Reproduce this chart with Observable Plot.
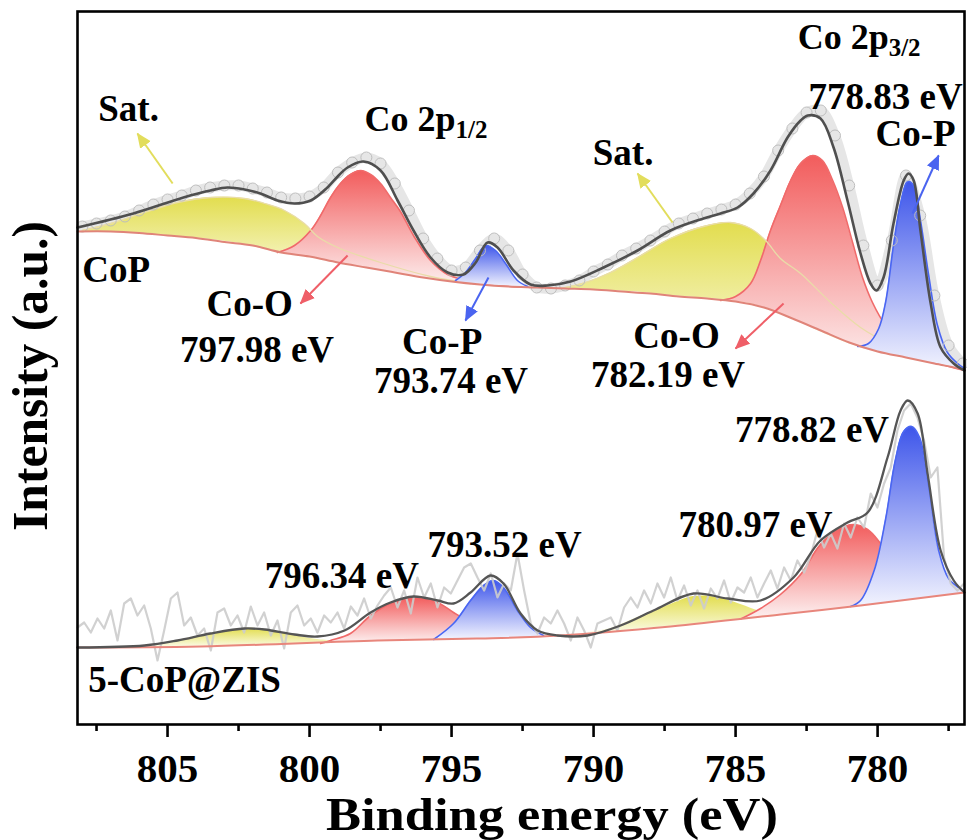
<!DOCTYPE html>
<html><head><meta charset="utf-8">
<script src="https://cdn.jsdelivr.net/npm/d3@7"></script>
<script src="https://cdn.jsdelivr.net/npm/@observablehq/plot@0.6"></script>
<style>html,body{margin:0;padding:0;background:#fff;}</style>
</head><body>
<div id="chart"></div>
<script>
// ---------- axis ----------
const xTicks = [805, 800, 795, 790, 785, 780];
const xMinorTicks = [807.5, 802.5, 797.5, 792.5, 787.5, 782.5, 777.5];
const xDomain = [808.17, 776.94];
const yDomain = [0, 71.3];
const xTitle = "Binding energy (eV)";
const yTitle = "Intensity (a.u.)";

// ---------- CoP (upper spectrum) : [binding energy, intensity] ----------
const copRaw = [[808,49.8],[807.5,50.1],[807,50.4],[806.5,50.8],[806,51.4],[805.5,52.0],[805,52.5],[804.5,52.9],[804,53.4],[803.5,53.7],[803,53.9],[802.5,53.9],[802,53.6],[801.5,53.2],[801,52.7],[800.5,52.6],[800,52.8],[799.5,53.7],[799,55.2],[798.5,56.2],[798,56.7],[797.5,56.1],[797,54.1],[796.5,51.4],[796,48.6],[795.5,46.6],[795,45.4],[794.5,45.7],[794,47.4],[793.5,48.6],[793,47.4],[792.5,45.0],[792,43.7],[791.5,43.6],[791,43.9],[790.5,44.4],[790,45.3],[789.5,46.0],[789,46.9],[788.5,47.6],[788,48.4],[787.5,49.3],[787,50.1],[786.5,50.6],[786,51.1],[785.5,51.5],[785,52.0],[784.5,53.1],[784,54.8],[783.5,57.4],[783,59.6],[782.5,61.2],[782,61.4],[781.5,58.9],[781,53.9],[780.5,47.9],[780,43.9],[779.5,48.4],[779,54.9],[778.5,50.9],[778,42.9],[777.5,37.9],[777,36.1]];
const copEnvelope = [[808.17,49.7],[806.2,51.1],[804.44,52.7],[803.49,53.4],[802.89,53.7],[802.29,53.5],[801.73,53.1],[801.13,52.4],[800.53,52.1],[799.96,52.4],[799.37,53.7],[799.01,54.8],[798.66,55.7],[798.1,56.3],[797.5,55.4],[796.9,52.4],[796.34,49.4],[795.74,46.7],[795.14,45.2],[794.58,45.0],[794.15,46.2],[793.73,48.2],[793.38,47.7],[792.82,45.4],[792.22,44.0],[791.62,43.9],[790.81,44.3],[789.65,45.7],[788.45,47.4],[787.29,49.4],[786.13,50.6],[785.53,51.1],[784.93,51.7],[784.37,53.1],[783.77,55.4],[783.17,58.7],[782.71,60.4],[782.46,60.9],[782.01,60.6],[781.55,57.7],[781.06,52.4],[780.6,47.1],[780.25,44.1],[780.04,43.4],[779.79,44.7],[779.44,50.1],[779.08,54.4],[778.91,55.1],[778.73,54.4],[778.49,49.4],[778.13,42.1],[777.78,37.7],[777.32,36.1],[776.94,35.4]];
const copBaseline = [[808.17,49.3],[807,49.3],[806,49.15],[805,48.9],[804,48.65],[803,48.25],[802,47.9],[801,47.2],[800,46.8],[799,46.2],[798,45.7],[797,45.2],[796,44.7],[795,44.3],[794,44.0],[793,43.8],[792,43.7],[791,43.6],[790,43.5],[789,43.3],[788,43.1],[787,42.8],[786,42.6],[785,42.3],[784,41.7],[783,40.6],[782,39.4],[781,38.2],[780,37.3],[779,36.7],[778,36.1],[777,35.5],[776.94,35.4]];
// fitted components: [energy, baseline, baseline + component]
const copSat1 = [[808,49.3,49.4],[807,49.25,50.1],[805.8,49.1,51.2],[804.65,48.8,52.2],[803.49,48.5,52.7],[802.29,48.0,52.6],[801.58,47.5,52.1],[800.88,47.2,51.4],[800.18,46.9,50.1],[799.72,46.6,48.8],[799.01,46.2,47.7],[797.5,45.4,46.2],[795.74,44.6,44.8],[794.33,44.1,44.1]];
const copCoO1 = [[801.13,47.2,47.2],[800.53,46.95,47.9],[799.96,46.7,49.4],[799.61,46.5,50.9],[799.26,46.3,52.7],[798.91,46.1,54.1],[798.56,45.9,55.0],[798.2,45.7,55.4],[797.85,45.55,55.0],[797.5,45.4,54.1],[797.15,45.25,52.7],[796.8,45.1,51.3],[796.34,44.9,48.9],[795.74,44.6,46.4],[795.14,44.35,45.0],[794.58,44.15,44.5],[793.63,43.9,44.0],[792.57,43.75,43.75]];
const copCoP1 = [[794.86,44.25,44.4],[794.51,44.1,45.2],[794.15,44.05,46.6],[793.8,43.95,47.9],[793.45,43.9,47.4],[793.1,43.85,46.1],[792.68,43.8,44.4],[792.32,43.75,43.8]];
const copSat2 = [[791.16,43.6,43.6],[790.28,43.55,44.2],[789.4,43.4,45.2],[788.45,43.25,46.7],[787.29,42.9,48.6],[786.13,42.65,49.8],[785.18,42.4,50.2],[784.47,42.1,49.6],[783.94,41.7,48.4],[783.42,41.1,46.6],[782.71,40.2,45.1],[781.65,38.8,42.2],[780.6,37.7,39.7],[779.54,37.0,38.0],[778.49,36.4,36.8],[777.43,35.8,35.9]];
const copCoO2 = [[785.53,42.4,42.4],[785,42.3,42.8],[784.47,42.1,44.1],[784.12,41.8,46.4],[783.77,41.5,49.4],[783.42,41.1,51.9],[783.06,40.7,54.4],[782.71,40.2,56.1],[782.29,39.7,56.9],[781.94,39.3,56.4],[781.58,38.9,54.4],[781.23,38.4,51.7],[780.88,38.0,48.2],[780.53,37.6,44.7],[780.18,37.4,42.2],[779.72,37.1,39.9],[779.19,36.8,38.2],[778.66,36.5,37.1],[777.96,36.1,36.2],[776.94,35.4,35.4]];
const copCoP2 = [[780.7,37.8,37.8],[780.32,37.45,38.1],[779.96,37.3,39.6],[779.72,37.1,42.2],[779.44,36.95,47.9],[779.19,36.8,52.1],[778.94,36.65,54.3],[778.73,36.55,53.9],[778.49,36.4,50.4],[778.2,36.25,44.9],[777.89,36.05,39.9],[777.54,35.85,37.2],[777.18,35.65,36.1],[776.94,35.5,35.6]];

// ---------- 5-CoP@ZIS (lower spectrum) ----------
const zisRawStart = 808.17, zisRawStep = 0.2347;
const zisRawValues = [9.7,10.2,9.2,10.6,9.6,11.4,8.4,12.1,12.6,10.9,11.9,9.6,6.4,9.4,12.6,13.2,9.9,10.7,8.9,9.6,7.4,11.2,11.6,9.9,10.9,9.2,11.8,9.9,11.2,8.9,10.4,7.6,11.2,11.9,9.9,10.6,9.2,10.9,10.2,11.2,9.6,11.8,10.9,12.6,10.6,
11.9,12.9,13.7,11.7,13.4,11.1,14.7,12.7,14.1,11.7,13.7,13.1,14.4,15.7,16.1,14.7,13.4,15.1,12.7,14.1,13.4,17.1,13.4,10.1,9.1,10.7,10.1,11.4,10.1,8.4,10.7,9.4,7.7,10.1,10.4,10.7,9.4,11.7,12.7,11.7,13.4,12.1,14.1,12.7,14.7,
12.4,13.9,11.9,13.4,11.6,13.6,12.6,14.4,12.2,13.7,13.2,14.7,12.7,14.1,15.4,13.6,15.7,14.4,16.4,15.2,16.9,19.4,17.7,19.1,17.6,20.1,18.7,20.7,19.7,23.1,21.7,24.1,25.7,29.4,31.4,32.1,30.7,28.4,24.7,25.7,16.7,14.1,13.4,14.1];
const zisEnvelope = [[808.17,7.7],[805.81,7.9],[804.65,8.4],[803.49,9.1],[802.29,9.6],[801.58,9.5],[800.53,9.0],[799.72,8.8],[798.77,9.4],[797.85,11.2],[797.15,12.2],[796.34,12.8],[795.49,12.4],[794.93,12.1],[794.33,13.2],[793.63,14.9],[793.17,14.1],[792.57,11.1],[791.97,9.4],[791.27,8.9],[790.21,8.9],[789.05,9.9],[787.89,11.4],[786.48,13.1],[785.28,12.6],[784.12,12.4],[782.96,14.7],[782.01,18.4],[781.06,20.2],[780.35,21.2],[779.65,26.7],[779.19,31.4],[778.94,32.4],[778.59,31.1],[778.24,25.1],[777.78,17.4],[777.32,14.4],[776.94,13.2]];
const zisBaseline = [[808.17,7.7],[803.84,7.8],[797.61,8.4],[793.98,8.6],[791.16,8.9],[787.29,9.8],[783.42,11.0],[780.6,11.9],[776.94,13.2]];
const zisSat1 = [[806.5,7.75,7.75],[805.81,7.8,7.9],[804.65,7.8,8.4],[803.49,7.85,9.1],[802.29,7.9,9.6],[801.58,7.95,9.5],[800.53,8.0,8.9],[799.72,8.1,8.5],[798.77,8.2,8.3]];
const zisCoO1 = [[799.61,8.1,8.1],[799.26,8.15,8.4],[798.56,8.2,9.1],[797.85,8.3,10.9],[797.15,8.35,12.1],[796.34,8.4,12.7],[795.49,8.5,12.2],[794.93,8.55,11.2],[794.33,8.6,10.2],[793.73,8.6,9.4],[792.92,8.7,8.8],[792.22,8.75,8.75]];
const zisCoP1 = [[795.63,8.5,8.5],[794.93,8.55,10.1],[794.33,8.6,12.4],[793.87,8.6,13.9],[793.52,8.65,14.4],[793.17,8.65,13.7],[792.68,8.7,11.4],[792.22,8.75,9.7],[791.76,8.8,8.9]];
const zisSat2 = [[790.2,9.15,9.2],[789.4,9.3,9.6],[788.45,9.55,10.7],[787.29,9.8,12.0],[786.48,10.0,12.8],[785.63,10.3,12.7],[784.82,10.55,12.0],[784.12,10.8,11.3],[783.42,11.0,11.1]];
const zisCoO2 = [[784.82,10.55,10.55],[784.12,10.8,11.6],[783.42,11.0,13.0],[782.71,11.2,15.0],[782.01,11.4,18.0],[781.3,11.6,19.6],[780.84,11.8,20.0],[780.35,12.0,19.5],[779.89,12.1,18.1],[779.44,12.3,16.4],[778.73,12.6,14.4],[778.03,12.8,13.4],[777.08,13.2,13.3]];
const zisCoP2 = [[780.95,11.8,11.8],[780.6,11.9,12.4],[780.11,12.05,15.5],[779.72,12.2,20.5],[779.37,12.3,26.5],[779.08,12.4,29.3],[778.8,12.5,29.8],[778.52,12.6,28.7],[778.2,12.7,23.9],[777.85,12.8,17.4],[777.5,12.95,14.6],[777.04,13.1,13.5]];

// ---------- annotations ----------
const labels = [
  {text: "Sat.", x: 806.37, y: 61.5},
  {text: "Sat.", x: 788.96, y: 57.1},
  {text: "778.83 eV", x: 779.72, y: 62.7},
  {text: "Co-P", x: 778.66, y: 59.0},
  {text: "CoP", x: 806.81, y: 45.4},
  {text: "Co-O", x: 802.11, y: 42.0},
  {text: "797.98 eV", x: 801.85, y: 37.4},
  {text: "Co-P", x: 795.33, y: 38.2},
  {text: "793.74 eV", x: 795.02, y: 34.3},
  {text: "Co-O", x: 787.08, y: 38.8},
  {text: "782.19 eV", x: 787.38, y: 34.9},
  {text: "778.82 eV", x: 782.31, y: 29.4},
  {text: "780.97 eV", x: 784.30, y: 19.9},
  {text: "793.52 eV", x: 793.13, y: 17.9},
  {text: "796.34 eV", x: 798.86, y: 14.8},
  {text: "5-CoP@ZIS", x: 804.40, y: 4.4}
];
const orbitalLabels = [
  {main: "Co 2p", sub: "1/2", x: 794.86, y: 60.5},
  {main: "Co 2p", sub: "3/2", x: 779.61, y: 68.7}
];
const arrows = [
  {x1: 804.82, y1: 54.1, x2: 806.06, y2: 59.1, color: "#e2dd5c"},
  {x1: 787.22, y1: 50.2, x2: 788.45, y2: 55.1, color: "#e2dd5c"},
  {x1: 798.66, y1: 46.9, x2: 800.32, y2: 42.1, color: "#ef5f68"},
  {x1: 783.31, y1: 42.1, x2: 785.0, y2: 37.6, color: "#ef5f68"},
  {x1: 793.70, y1: 44.7, x2: 794.51, y2: 40.4, color: "#4a64f0"},
  {x1: 778.77, y1: 51.1, x2: 777.85, y2: 56.9, color: "#4a64f0"}
];

const zisRaw = zisRawValues.map((v, i) => [zisRawStart - i * zisRawStep, v]);

const X = d => d[0], Y = d => d[1], LO = d => d[1], HI = d => d[2];
const curve = "catmull-rom";

function comp(data, fill, edge, edgeWidth) {
  return [
    Plot.areaY(data, {x: X, y1: LO, y2: HI, fill, curve}),
    Plot.line(data, {x: X, y: HI, stroke: edge, strokeWidth: edgeWidth, curve})
  ];
}
function tail(data) {
  return Plot.line(data, {x: X, y: HI, stroke: "#e9dca8", strokeWidth: 1.3, curve});
}

const svg = Plot.plot({
  width: 967,
  height: 840,
  marginLeft: 77,
  marginRight: 3,
  marginTop: 11,
  marginBottom: 116,
  style: {fontFamily: "'Liberation Serif', 'Times New Roman', serif", fontWeight: "bold", background: "white", color: "black"},
  x: {domain: xDomain},
  y: {domain: yDomain, axis: null},
  marks: [
    // upper spectrum
    Plot.line(copRaw, {x: X, y: Y, stroke: "#e6e6e6", strokeWidth: 10, curve, strokeLinecap: "round"}),
    ...comp(copSat1, "url(#gYellow)", "none", 0),
    ...comp(copSat2, "url(#gYellow)", "none", 0),
    ...comp(copCoO1, "url(#gRed)", "#f06a6a", 1.6),
    ...comp(copCoO2, "url(#gRed)", "#f06a6a", 1.6),
    tail(copSat1), tail(copSat2),
    ...comp(copCoP1, "url(#gBlue)", "#4a66f2", 1.6),
    ...comp(copCoP2, "url(#gBlue)", "#4a66f2", 1.6),
    Plot.dot(copRaw, {x: X, y: Y, r: 5.5, stroke: "#bdbdbd", strokeWidth: 1, fill: "none"}),
    Plot.line(copBaseline, {x: X, y: Y, stroke: "#e08479", strokeWidth: 2, curve}),
    Plot.line(copEnvelope, {x: X, y: Y, stroke: "#4f4f4f", strokeWidth: 2.6, curve}),

    // lower spectrum
    ...comp(zisSat1, "url(#gYellow)", "none", 0),
    ...comp(zisSat2, "url(#gYellow)", "none", 0),
    ...comp(zisCoO1, "url(#gRed)", "#f06a6a", 1.6),
    ...comp(zisCoO2, "url(#gRed)", "#f06a6a", 1.6),
    ...comp(zisCoP1, "url(#gBlue)", "#4a66f2", 1.6),
    ...comp(zisCoP2, "url(#gBlue)", "#4a66f2", 1.6),
    Plot.line(zisRaw, {x: X, y: Y, stroke: "#cccccc", strokeWidth: 2.2, strokeOpacity: 0.9}),
    Plot.line(zisBaseline, {x: X, y: Y, stroke: "#e8867c", strokeWidth: 2, curve}),
    Plot.line(zisEnvelope, {x: X, y: Y, stroke: "#555555", strokeWidth: 2.3, curve}),

    // arrows
    ...["#e2dd5c", "#ef5f68", "#4a64f0"].map(c =>
      Plot.link(arrows.filter(a => a.color === c), {x1: "x1", y1: "y1", x2: "x2", y2: "y2", stroke: c, strokeWidth: 2})),

    // labels
    Plot.text(labels, {x: "x", y: "y", text: "text", fontSize: 37, fontWeight: "bold", fill: "black"}),
    Plot.text(orbitalLabels, {x: "x", y: "y", text: "main", textAnchor: "end", fontSize: 36, fontWeight: "bold", fill: "black"}),
    Plot.text(orbitalLabels, {x: "x", y: "y", text: "sub", textAnchor: "start", dy: 10, fontSize: 25, fontWeight: "bold", fill: "black"}),

    // axes
    Plot.axisX({ticks: xTicks, tickSize: 13, tickPadding: 15, tickFormat: d => String(d), fontSize: 41, fontWeight: "bold", strokeWidth: 2.6, label: null}),
    Plot.axisX({ticks: xMinorTicks, tickSize: 7, tickFormat: () => "", strokeWidth: 2.6, label: null}),
    Plot.text([xTitle], {frameAnchor: "bottom", lineAnchor: "middle", textAnchor: "middle", dx: 31, dy: 90, fontSize: 47, fontWeight: "bold", fill: "black"}),
    Plot.text([yTitle], {frameAnchor: "left", lineAnchor: "middle", textAnchor: "middle", rotate: -90, dx: -47, dy: 8, fontSize: 50, fontWeight: "bold", fill: "black"}),
    Plot.frame({stroke: "black", strokeWidth: 2.6})
  ]
});

// gradients and arrow heads
const defs = d3.select(svg).insert("defs", ":first-child");
function grad(id, top, bottom) {
  const g = defs.append("linearGradient").attr("id", id).attr("x1", 0).attr("y1", 0).attr("x2", 0).attr("y2", 1);
  g.append("stop").attr("offset", "0%").attr("stop-color", top);
  g.append("stop").attr("offset", "100%").attr("stop-color", bottom);
}
grad("gRed", "#f25c5c", "#fdf1f1");
grad("gBlue", "#3d55ea", "#f2f3fe");
grad("gYellow", "#e2dd4e", "#fbfbe4");
const headIds = {};
["#e2dd5c", "#ef5f68", "#4a64f0"].forEach((c, i) => {
  const id = "ah" + i;
  headIds[c] = id;
  defs.append("marker").attr("id", id).attr("viewBox", "0 -7 15 14").attr("refX", 14).attr("refY", 0)
    .attr("markerWidth", 15).attr("markerHeight", 14).attr("markerUnits", "userSpaceOnUse").attr("orient", "auto")
    .append("path").attr("d", "M0,-6.5L15,0L0,6.5Z").attr("fill", c);
});
svg.querySelectorAll('g[aria-label="link"]').forEach(g => {
  const c = g.getAttribute("stroke");
  g.querySelectorAll("path").forEach(p => p.setAttribute("marker-end", `url(#${headIds[c]})`));
});
// match the titles' printed lengths
svg.querySelectorAll("text").forEach(t => {
  if (t.textContent === yTitle) { t.setAttribute("textLength", 310); t.setAttribute("lengthAdjust", "spacingAndGlyphs"); }
  if (t.textContent === xTitle) { t.setAttribute("textLength", 452); t.setAttribute("lengthAdjust", "spacingAndGlyphs"); }
});

document.getElementById("chart").appendChild(svg);
</script>
</body></html>
